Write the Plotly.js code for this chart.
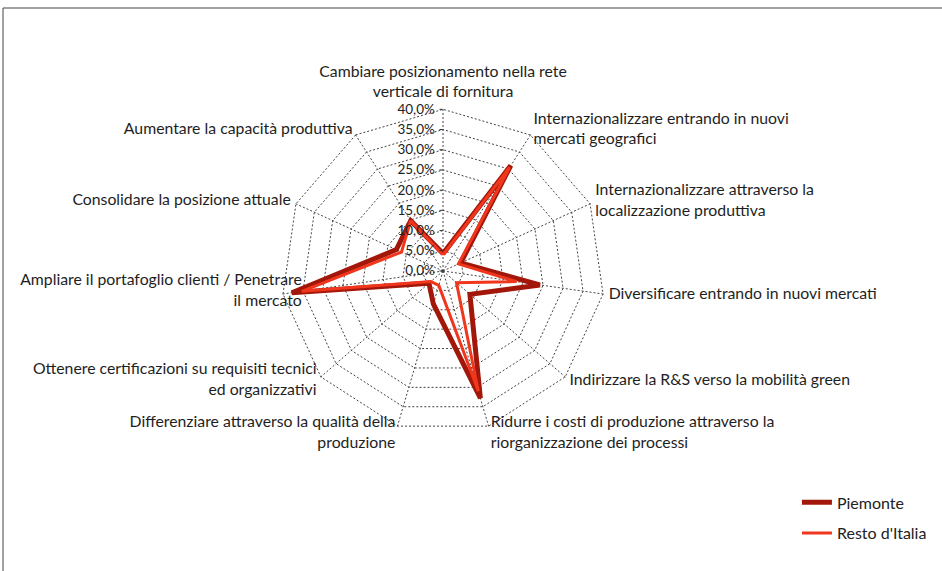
<!DOCTYPE html>
<html>
<head>
<meta charset="utf-8">
<script src="https://cdn.plot.ly/plotly-3.0.1.min.js"></script>
<style>html,body{margin:0;padding:0;background:#fff;}#chart{width:942px;height:571px;}</style>
</head>
<body>
<div id="chart"></div>
<script>
// Categories (clockwise from top)
var categories = [
  "Cambiare posizionamento nella rete verticale di fornitura",
  "Internazionalizzare entrando in nuovi mercati geografici",
  "Internazionalizzare attraverso la localizzazione produttiva",
  "Diversificare entrando in nuovi mercati",
  "Indirizzare la R&S verso la mobilità green",
  "Ridurre i costi di produzione attraverso la riorganizzazione dei processi",
  "Differenziare attraverso la qualità della produzione",
  "Ottenere certificazioni su requisiti tecnici ed organizzativi",
  "Ampliare il portafoglio clienti / Penetrare il mercato",
  "Consolidare la posizione attuale",
  "Aumentare la capacità produttiva"
];
// Wrapped category labels
var tickLabels = [
  "Cambiare posizionamento nella rete<br>verticale di fornitura",
  "Internazionalizzare entrando in nuovi<br>mercati geografici",
  "Internazionalizzare attraverso la<br>localizzazione produttiva",
  "Diversificare entrando in nuovi mercati",
  "Indirizzare la R&amp;S verso la mobilità green",
  "Ridurre i costi di produzione attraverso la<br>riorganizzazione dei processi",
  "Differenziare attraverso la qualità della<br>produzione",
  "Ottenere certificazioni su requisiti tecnici<br>ed organizzativi",
  "Ampliare il portafoglio clienti / Penetrare<br>il mercato",
  "Consolidare la posizione attuale",
  "Aumentare la capacità produttiva"
];
// Values (%)
var piemonte = [4.3, 31.0, 4.8, 24.2, 8.8, 32.8, 8.5, 4.6, 37.8, 12.7, 14.8];
var restoItalia = [4.0, 30.5, 4.2, 18.4, 4.4, 31.0, 3.7, 4.0, 35.3, 11.3, 14.8];
var seriesNames = ["Piemonte", "Resto d'Italia"];
// Radial tick values and labels
var radialTicks = [0, 5, 10, 15, 20, 25, 30, 35, 40];
var radialTickLabels = ["0,0%", "5,0%", "10,0%", "15,0%", "20,0%", "25,0%", "30,0%", "35,0%", "40,0%"];

function closed(arr) { return arr.concat([arr[0]]); }

var FONT = "Lato, 'Open Sans', sans-serif";

// label placement (layout settings for the category-label layer)
var LABEL_RANGE = 48;
var labelRadius = [42.0, 41.4, 41.4, 41.4, 41.4, 41.9, 41.9, 41.4, 35.3, 41.4, 41.4];
var labelPositions = ["top center", "middle right", "middle right", "middle right", "middle right",
  "middle right", "middle left", "middle left", "middle left", "middle left", "middle left"];

var traces = [
  {
    type: "scatterpolar", mode: "lines", subplot: "polar",
    name: seriesNames[0], legendgroup: "a",
    r: closed(piemonte), theta: closed(categories),
    line: {color: "#A3170A", width: 5}, hoverinfo: "skip"
  },
  {
    type: "scatterpolar", mode: "lines", subplot: "polar",
    name: seriesNames[1], legendgroup: "b",
    r: closed(restoItalia), theta: closed(categories),
    line: {color: "#F0361C", width: 3}, hoverinfo: "skip"
  },
  {
    type: "scatterpolar", mode: "text", subplot: "polar2", showlegend: false, hoverinfo: "skip",
    r: labelRadius, theta: categories,
    text: tickLabels, textposition: labelPositions, cliponaxis: false,
    textfont: {family: FONT, size: 15.8, color: "#1e1e1e"}
  }
];

var layout = {
  width: 942, height: 571,
  margin: {l: 0, r: 0, t: 0, b: 0},
  paper_bgcolor: "#fff",
  separators: ",.",
  font: {family: FONT, size: 14, color: "#222"},
  showlegend: true,
  legend: {
    x: 0.846, xanchor: "left", y: 0.15, yanchor: "top",
    font: {family: FONT, size: 16, color: "#222"},
    tracegroupgap: 7, bgcolor: "rgba(0,0,0,0)"
  },
  polar: {
    domain: {x: [0.2965, 0.6441], y: [0.2387, 0.8121]},
    gridshape: "linear",
    bgcolor: "#fff",
    angularaxis: {
      type: "category",
      categoryarray: categories,
      direction: "clockwise", rotation: 90,
      showticklabels: false, ticks: "",
      showline: false,
      gridcolor: "#444", gridwidth: 1, griddash: "2px,2px"
    },
    radialaxis: {
      range: [0, 40.5], tickmode: "array", tickvals: radialTicks, ticktext: radialTickLabels,
      angle: 90, side: "counterclockwise", tickangle: 90,
      tickfont: {family: FONT, size: 13.5, color: "#222"},
      ticks: "outside", ticklen: 3, tickcolor: "#333",
      showline: false,
      gridcolor: "#444", gridwidth: 1, griddash: "2px,2px"
    }
  },
  polar2: {
    domain: {x: [0.2643, 0.6763], y: [0.18557, 0.86522]},
    gridshape: "linear",
    bgcolor: "rgba(0,0,0,0)",
    angularaxis: {
      type: "category",
      categoryarray: categories,
      direction: "clockwise", rotation: 90,
      showticklabels: false, ticks: "", showline: false, showgrid: false
    },
    radialaxis: {
      range: [0, LABEL_RANGE], visible: false, showgrid: false, showline: false,
      showticklabels: false, ticks: ""
    }
  },
  shapes: [
    {type: "line", xref: "paper", yref: "paper", x0: 3/942, x1: 1, y0: 1 - 8/571, y1: 1 - 8/571, line: {color: "#444", width: 1}},
    {type: "line", xref: "paper", yref: "paper", x0: 3/942, x1: 3/942, y0: 0, y1: 1 - 8/571, line: {color: "#444", width: 1}}
  ]
};

Plotly.newPlot("chart", traces, layout, {displayModeBar: false, staticPlot: true});
</script>
</body>
</html>
